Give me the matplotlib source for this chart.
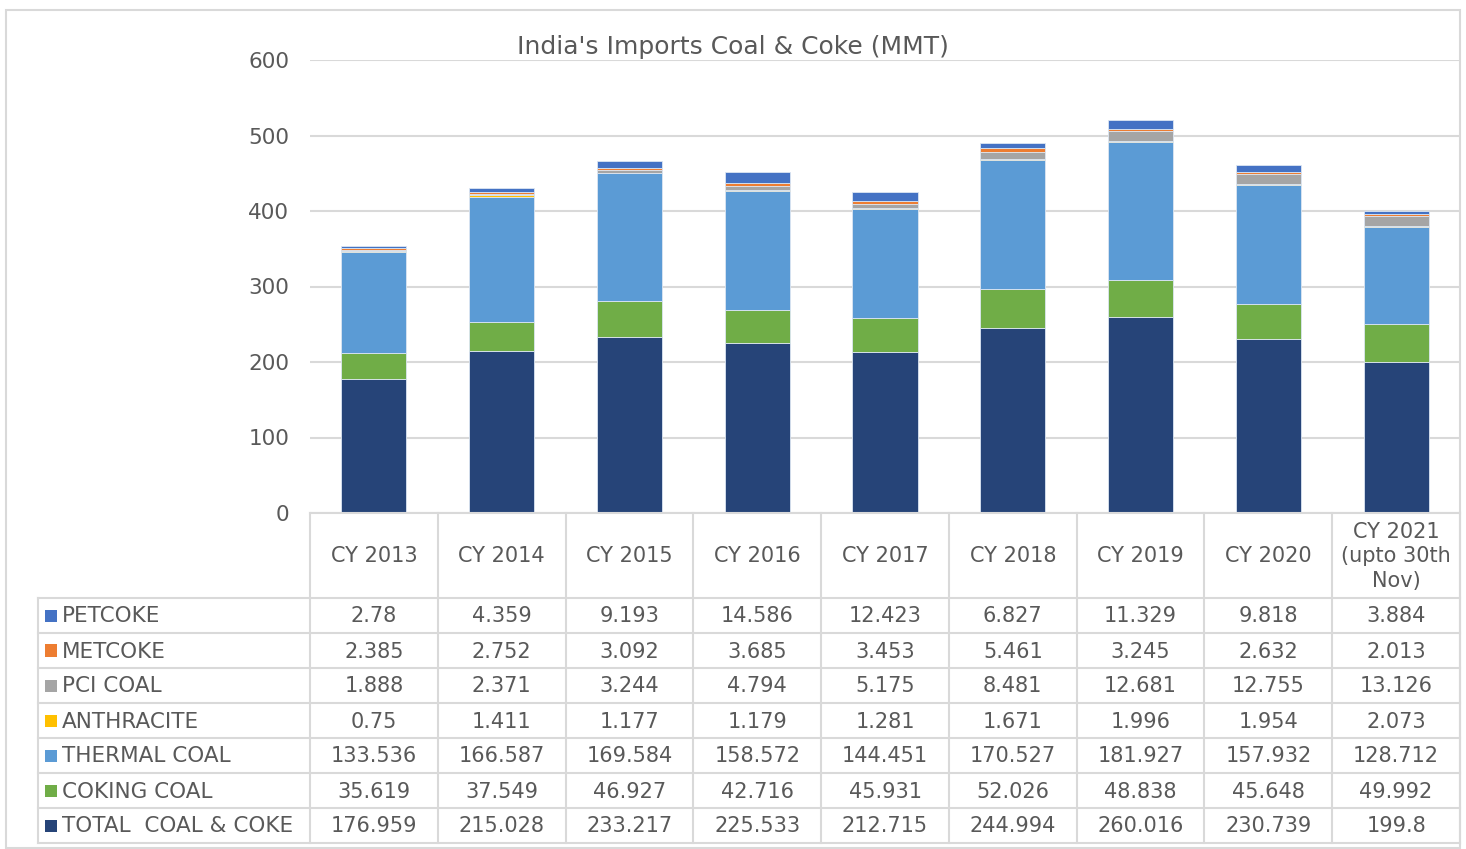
import matplotlib
matplotlib.use("Agg")
import matplotlib.pyplot as plt
from matplotlib.patches import Rectangle
from matplotlib.lines import Line2D

categories = ["CY 2013", "CY 2014", "CY 2015", "CY 2016", "CY 2017", "CY 2018",
              "CY 2019", "CY 2020", "CY 2021\n(upto 30th\nNov)"]

petcoke = [2.78, 4.359, 9.193, 14.586, 12.423, 6.827, 11.329, 9.818, 3.884]
metcoke = [2.385, 2.752, 3.092, 3.685, 3.453, 5.461, 3.245, 2.632, 2.013]
pci_coal = [1.888, 2.371, 3.244, 4.794, 5.175, 8.481, 12.681, 12.755, 13.126]
anthracite = [0.75, 1.411, 1.177, 1.179, 1.281, 1.671, 1.996, 1.954, 2.073]
thermal_coal = [133.536, 166.587, 169.584, 158.572, 144.451, 170.527, 181.927, 157.932, 128.712]
coking_coal = [35.619, 37.549, 46.927, 42.716, 45.931, 52.026, 48.838, 45.648, 49.992]
total_coal_coke = [176.959, 215.028, 233.217, 225.533, 212.715, 244.994, 260.016, 230.739, 199.8]

series_names = ["PETCOKE", "METCOKE", "PCI COAL", "ANTHRACITE", "THERMAL COAL",
                "COKING COAL", "TOTAL  COAL & COKE"]
series_vals = [petcoke, metcoke, pci_coal, anthracite, thermal_coal, coking_coal, total_coal_coke]
series_colors = ["#4472C4", "#ED7D31", "#A5A5A5", "#FFC000", "#5B9BD5", "#70AD47", "#264478"]
series_text = [
    ["2.78", "4.359", "9.193", "14.586", "12.423", "6.827", "11.329", "9.818", "3.884"],
    ["2.385", "2.752", "3.092", "3.685", "3.453", "5.461", "3.245", "2.632", "2.013"],
    ["1.888", "2.371", "3.244", "4.794", "5.175", "8.481", "12.681", "12.755", "13.126"],
    ["0.75", "1.411", "1.177", "1.179", "1.281", "1.671", "1.996", "1.954", "2.073"],
    ["133.536", "166.587", "169.584", "158.572", "144.451", "170.527", "181.927", "157.932", "128.712"],
    ["35.619", "37.549", "46.927", "42.716", "45.931", "52.026", "48.838", "45.648", "49.992"],
    ["176.959", "215.028", "233.217", "225.533", "212.715", "244.994", "260.016", "230.739", "199.8"],
]
yticks = [0, 100, 200, 300, 400, 500, 600]

W, H = 1466, 849
TXT = "#595959"
GRID = "#D9D9D9"
plt.rcParams['font.family'] = ['DejaVu Sans']

fig = plt.figure(figsize=(W / 100, H / 100), dpi=100)

def fx(px):
    return px / W

def fy(py):
    return 1 - py / H

ax_l, ax_r, ax_t, ax_b = 310, 1460, 60, 513
ax = fig.add_axes([fx(ax_l), fy(ax_b), fx(ax_r - ax_l), fy(ax_t) - fy(ax_b)])
n = len(categories)
ax.set_xlim(-0.5, n - 0.5)
ax.set_ylim(0, 600)
for s in ax.spines.values():
    s.set_visible(False)
ax.set_yticks(yticks)
ax.set_yticklabels([str(v) for v in yticks], fontsize=15.5, color=TXT)
ax.tick_params(axis='y', length=0, pad=15)
ax.set_xticks([])
ax.yaxis.grid(True, color=GRID, linewidth=1.5)
ax.set_axisbelow(True)

# stacked bars: bottom = last series
bottoms = [0.0] * n
x = list(range(n))
for name, vals, col in reversed(list(zip(series_names, series_vals, series_colors))):
    ax.bar(x, vals, bottom=bottoms, width=0.51, color=col, edgecolor="#DCE6F2",
           linewidth=0.6, zorder=3)
    bottoms = [b + v for b, v in zip(bottoms, vals)]

fig.text(fx(733), fy(47), "India's Imports Coal & Coke (MMT)", ha='center', va='center',
         fontsize=18, color=TXT)

# outer chart border
fig.add_artist(Rectangle((fx(6), fy(848)), fx(1454), fy(10) - fy(848), transform=fig.transFigure,
                         fill=False, edgecolor=GRID, linewidth=1.5))

# data table
col_w = (ax_r - ax_l) / n
head_top, head_bot = ax_b, 598
row_h = 35
lab_l = 38
nrows = len(series_names)
tbl_bot = head_bot + nrows * row_h

def hline(x0, x1, y):
    fig.add_artist(Line2D([fx(x0), fx(x1)], [fy(y), fy(y)], transform=fig.transFigure,
                          color=GRID, linewidth=1.5))

def vline(x0, y0, y1):
    fig.add_artist(Line2D([fx(x0), fx(x0)], [fy(y0), fy(y1)], transform=fig.transFigure,
                          color=GRID, linewidth=1.5))

hline(ax_l, ax_r, head_top)
for i in range(nrows + 1):
    hline(lab_l, ax_r, head_bot + i * row_h)
for k in range(n + 1):
    vline(ax_l + k * col_w, head_top, tbl_bot)
vline(lab_l, head_bot, tbl_bot)

for k, c in enumerate(categories):
    fig.text(fx(ax_l + (k + 0.5) * col_w), fy((head_top + head_bot) / 2 + 1), c,
             ha='center', va='center', fontsize=15, color=TXT, linespacing=1.3)

for i, (name, col, texts) in enumerate(zip(series_names, series_colors, series_text)):
    yc = head_bot + (i + 0.5) * row_h
    base = yc + 7
    fig.add_artist(Rectangle((fx(45), fy(yc + 6)), fx(12), fy(yc - 6) - fy(yc + 6),
                             transform=fig.transFigure, facecolor=col, edgecolor='none'))
    fig.text(fx(62), fy(base), name, ha='left', va='baseline', fontsize=15.5, color=TXT)
    for k, t in enumerate(texts):
        fig.text(fx(ax_l + (k + 0.5) * col_w), fy(base), t, ha='center', va='baseline',
                 fontsize=15, color=TXT)

fig.savefig("out.png", dpi=100)
